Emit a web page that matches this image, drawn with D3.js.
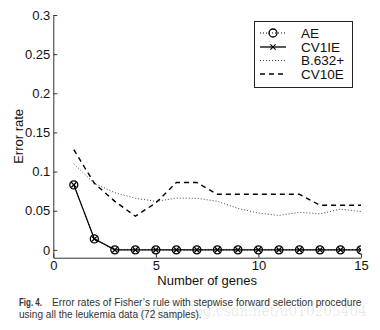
<!DOCTYPE html>
<html><head><meta charset="utf-8">
<script src="https://cdn.jsdelivr.net/npm/d3@7"></script>
<style>body{margin:0;background:#fff}svg{display:block}</style>
</head><body>
<svg id="c" width="380" height="330"></svg>
<script>
const genes = [1,2,3,4,5,6,7,8,9,10,11,12,13,14,15];
const AE    = [0.083,0.014,0,0,0,0,0,0,0,0,0,0,0,0,0];
const CV1IE = [0.083,0.014,0,0,0,0,0,0,0,0,0,0,0,0,0];
const B632  = [0.110,0.085,0.073,0.066,0.062,0.066,0.066,0.062,0.053,0.047,0.044,0.048,0.046,0.052,0.049];
const CV10E = [0.128,0.085,0.062,0.043,0.060,0.086,0.086,0.071,0.071,0.071,0.071,0.071,0.057,0.057,0.057];
const xTicks = [0,5,10,15];
const yTicks = [0,0.05,0.1,0.15,0.2,0.25,0.3];
const yTickLabels = ["0","0.05","0.1","0.15","0.2","0.25","0.3"];
const legendNames = ["AE","CV1IE","B.632+","CV10E"];

const svg = d3.select("#c");
const L=53.3, R=361, T=15, B=257.7;
const x = d3.scaleLinear().domain([0,15]).range([L,R]);
const y = d3.scaleLinear().domain([-0.01,0.3]).range([B,T]);
const font = "'Liberation Sans', Arial, sans-serif";
const axisCol = "#333";

// axes
const xa = svg.append("g").attr("transform",`translate(0,${B})`)
  .call(d3.axisBottom(x).tickValues(xTicks).tickSizeInner(-4).tickSizeOuter(0).tickPadding(3));
const ya = svg.append("g").attr("transform",`translate(${L},0)`)
  .call(d3.axisLeft(y).tickValues(yTicks).tickFormat((d,i)=>yTickLabels[i]).tickSizeInner(-4).tickSizeOuter(0).tickPadding(3));
[xa,ya].forEach(g=>{
  g.selectAll("path,line").attr("stroke",axisCol).attr("stroke-width",1);
  g.selectAll("text").attr("font-family",font).attr("font-size",13).attr("fill","#111");
});

svg.append("text").attr("x",(L+R)/2).attr("y",285).attr("text-anchor","middle")
  .attr("font-family",font).attr("font-size",13).attr("fill","#111").text("Number of genes");
svg.append("text").attr("transform",`translate(23,${(T+B)/2}) rotate(-90)`).attr("text-anchor","middle")
  .attr("font-family",font).attr("font-size",13).attr("fill","#111").text("Error rate");

svg.append("clipPath").attr("id","clip").append("rect").attr("x",L).attr("y",0).attr("width",R-L).attr("height",B);
const plot = svg.append("g").attr("clip-path","url(#clip)");
const line = d3.line().x((d,i)=>x(genes[i])).y(d=>y(d));

const styles = {
  AE:{stroke:"#000",dash:"1,2",width:1},
  CV1IE:{stroke:"#000",dash:null,width:1.3},
  B632:{stroke:"#444",dash:"1,2",width:1},
  CV10E:{stroke:"#000",dash:"5,4",width:1.4}
};
function drawLine(data,s){
  plot.append("path").datum(data).attr("d",line).attr("fill","none")
    .attr("stroke",s.stroke).attr("stroke-width",s.width).attr("stroke-dasharray",s.dash);
}
drawLine(B632,styles.B632);
drawLine(CV10E,styles.CV10E);
drawLine(AE,styles.AE);
drawLine(CV1IE,styles.CV1IE);

function circleMark(g,cx,cy){
  g.append("circle").attr("cx",cx).attr("cy",cy).attr("r",4).attr("fill","none").attr("stroke","#000").attr("stroke-width",1.3);
}
function crossMark(g,cx,cy){
  const s=2.6;
  g.append("path").attr("d",`M${cx-s},${cy-s}L${cx+s},${cy+s}M${cx-s},${cy+s}L${cx+s},${cy-s}`)
    .attr("stroke","#000").attr("stroke-width",1.2);
}
AE.forEach((v,i)=>circleMark(plot,x(genes[i]),y(v)));
CV1IE.forEach((v,i)=>crossMark(plot,x(genes[i]),y(v)));

// legend
const lg = svg.append("g");
lg.append("rect").attr("x",254.5).attr("y",21.5).attr("width",98).attr("height",66)
  .attr("fill","#fff").attr("stroke","#222").attr("stroke-width",1);
const ly = [33,47,60.5,74];
const lkeys = ["AE","CV1IE","B632","CV10E"];
legendNames.forEach((n,i)=>{
  const s = styles[lkeys[i]];
  lg.append("line").attr("x1",260).attr("x2",286).attr("y1",ly[i]).attr("y2",ly[i])
    .attr("stroke",s.stroke).attr("stroke-width",s.width).attr("stroke-dasharray",s.dash);
  if(i===0) circleMark(lg,273,ly[i]);
  if(i===1) crossMark(lg,273,ly[i]);
  lg.append("text").attr("x",301).attr("y",ly[i]+4.6).attr("font-family",font).attr("font-size",13.5)
    .attr("fill","#111").text(n);
});

// caption: fit each line to its width by horizontal scaling
function fitText(str,x0,y0,w,opts){
  const g = svg.append("g");
  const t = g.append("text").attr("x",0).attr("y",0)
    .attr("font-family",opts.family).attr("font-size",opts.size).attr("fill",opts.fill)
    .attr("font-weight",opts.weight||"normal").attr("fill-opacity",opts.opacity==null?1:opts.opacity).text(str);
  const nat = t.node().getComputedTextLength();
  g.attr("transform",`translate(${x0},${y0}) scale(${w/nat},1)`);
}
const capOpts = {family:"'Liberation Sans', Arial, sans-serif", size:10.5, fill:"#333"};
fitText("Fig. 4.",19,306,23,Object.assign({},capOpts,{weight:"bold"}));
fitText("Error rates of Fisher\u2019s rule with stepwise forward selection procedure",52,306,310,capOpts);
fitText("using all the leukemia data (72 samples).",19,318,183,capOpts);
fitText("https://blog.csdn.net/u010205404",132,316,235,{family:"'DejaVu Serif', serif",size:14,fill:"#000",opacity:0.1});
</script>
</body></html>
